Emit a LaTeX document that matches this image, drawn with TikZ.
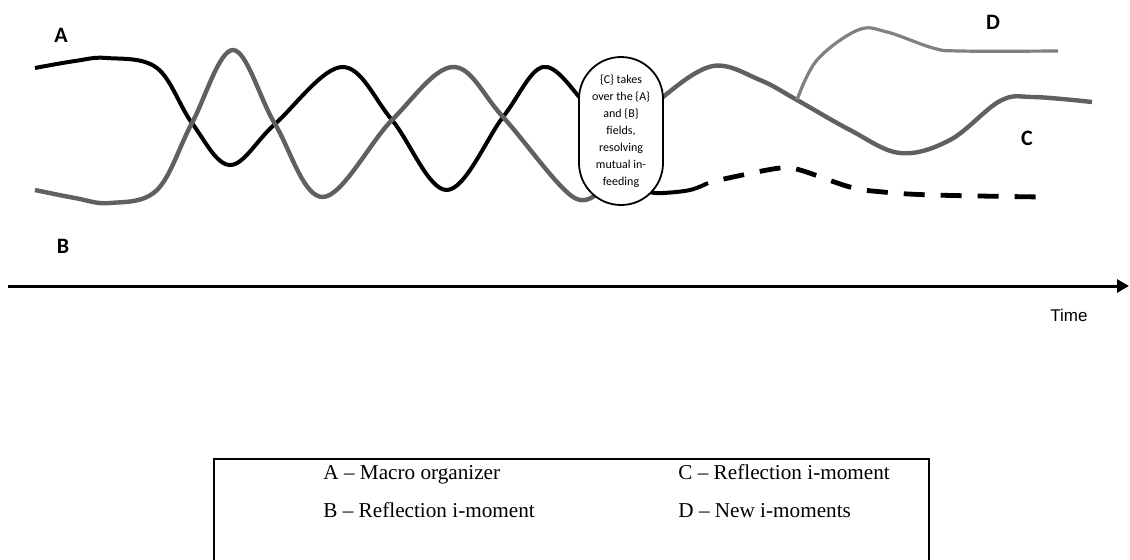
\documentclass[tikz,border=0pt]{standalone}
\usepackage{fontspec}
\setmainfont{Liberation Serif}
\newfontfamily\calibrifont{Carlito}
\newfontfamily\arialfont{Liberation Sans}
\usetikzlibrary{
  arrows.meta,
  positioning
}
\definecolor{macrocolor}{RGB}{0,0,0}
\definecolor{reflectcolor}{RGB}{96,96,96}
\definecolor{newcolor}{RGB}{128,128,128}
\definecolor{labelcolor}{RGB}{0,0,0}
\tikzset{
curvelabel/.style={
  font=\calibrifont\bfseries\fontsize{11}{13}\selectfont,
  text=labelcolor,
  inner sep=0pt
},
macroline/.style={
  draw=macrocolor,
  line width=2pt
},
reflectline/.style={
  draw=reflectcolor,
  line width=2.2pt
},
newline/.style={
  draw=newcolor,
  line width=1.6pt
},
dashline/.style={
  draw=macrocolor,
  line width=2.4pt,
  dash pattern=on 10.5pt off 8pt,
  dash phase=-8pt
},
pillbox/.style={
  draw,
  fill=white,
  line width=0.9pt,
  rounded corners=21pt,
  minimum width=42pt,
  minimum height=74pt,
  inner sep=0pt,
  align=center,
  font=\calibrifont\fontsize{6}{8.5}\selectfont
},
timeaxis/.style={
  -{Triangle[length=6pt,width=6.5pt]},
  line width=1.5pt
},
legendtext/.style={
  font=\fontsize{10.6}{12}\selectfont,
  anchor=base west,
  inner sep=0pt
}
}
\begin{document}
\begin{tikzpicture}[x=0.5pt,y=-0.5pt]
  \useasboundingbox (0,0) rectangle (1130,559);
  \clip (0,0) rectangle (1130,559);

  % strands before the meeting
  \draw[macroline] plot[smooth, tension=0.6] coordinates {
    (35,68) (75,61) (107,58) (157,68) (192,123) (230,165) (275,124)
    (342,67) (392,120) (447,190) (503,117) (543,67) (582,100) (600,125)};
  \draw[reflectline] plot[smooth, tension=0.6] coordinates {
    (35,190) (75,198) (110,203) (157,190) (192,123) (233,50) (275,124)
    (323,197) (392,120) (453,67) (503,117) (573,197) (605,185)};

  % strands after the meeting
  \draw[reflectline] plot[smooth, tension=0.6] coordinates {
    (640,125) (663,97) (713,66) (760,80) (797,100) (850,130) (900,153)
    (950,140) (1000,101) (1033,97) (1092,102)};
  \draw[newline] plot[smooth, tension=0.6] coordinates {
    (797,100) (817,60) (858,30) (887,32) (933,48) (960,51) (1058,51)};
  \draw[macroline] plot[smooth, tension=0.6] coordinates {
    (630,185) (650,192) (663,193) (690,190) (708,183)};
  \draw[dashline] plot[smooth, tension=0.6] coordinates {
    (708,183) (733,177) (780,168) (800,170) (850,187) (883,192)
    (933,195) (1042,197)};

  \node[pillbox] (merge) at (621,131) {\{C\} takes\\over the \{A\}\\and \{B\}\\fields,\\resolving\\mutual in-\\feeding};

  \node[curvelabel] (labA) at (61,35) {A};
  \node[curvelabel] (labB) at (63,246) {B};
  \node[curvelabel] (labD) at (993,22) {D};
  \node[curvelabel] (labC) at (1027,138) {C};

  % time axis
  \coordinate (tstart) at (8,286);
  \coordinate (tend) at (1129,286);
  \draw[timeaxis] (tstart) -- (tend);
  \node[font=\arialfont\fontsize{8.5}{10}\selectfont, inner sep=0pt] (timelab) at (1069,315) {Time};

  % legend
  \draw[line width=1pt] (214,575) -- (214,459) -- (929,459) -- (929,575);
  \node[legendtext] (legA) at (323,479) {A -- Macro organizer};
  \node[legendtext] (legB) at (323,517) {B -- Reflection i-moment};
  \node[legendtext] (legC) at (678,479) {C -- Reflection i-moment};
  \node[legendtext] (legD) at (678,517) {D -- New i-moments};
\end{tikzpicture}
\end{document}
